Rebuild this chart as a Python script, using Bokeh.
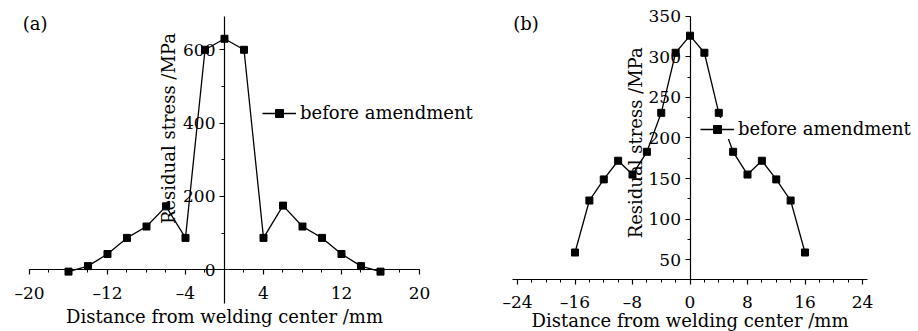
import math
from bokeh.plotting import figure
from bokeh.models import FixedTicker, Label, Legend, LegendItem, Range1d
from bokeh.layouts import row
from bokeh.embed import file_html
from bokeh.resources import INLINE

# ---------------- data ----------------
positions = [-16, -14, -12, -10, -8, -6, -4, -2, 0, 2, 4, 6, 8, 10, 12, 14, 16]
stress_a = [-5, 10, 43, 87, 118, 173, 87, 600, 630, 600, 87, 175, 118, 87, 43, 10, -5]
stress_b = [59, 123, 149, 172, 155, 183, 231, 305, 326, 305, 231, 183, 155, 172, 149, 123, 59]

xticks_a = [-20, -12, -4, 4, 12, 20]
xminor_a = [-20, -18, -16, -14, -12, -10, -8, -6, -4, -2, 0, 2, 4, 6, 8, 10, 12, 14, 16, 18, 20]
yticks_a = [0, 200, 400, 600]
yminor_a = [100, 300, 500]

xticks_b = [-24, -16, -8, 0, 8, 16, 24]
xminor_b = [-24, -22, -20, -18, -16, -14, -12, -10, -8, -6, -4, -2, 0, 2, 4, 6, 8, 10, 12, 14, 16, 18, 20, 22, 24]
yticks_b = [50, 100, 150, 200, 250, 300, 350]
yminor_b = [75, 125, 175, 225, 275, 325]

series_name = "before amendment"
x_title = "Distance from welding center /mm"
y_title = "Residual stress /MPa"
panel_tags = ["(a)", "(b)"]

FONT = "DejaVu Serif"


def tick_text(v):
    return str(v).replace("-", "\u2013")


def make_panel(width, height, xr, yr, xbounds, ybounds, x_axis_at, xt, xm, yt, ym, ys,
               legend_loc, tag, tag_xy, ylab_xy, xlabel_standoff):
    p = figure(width=width, height=height, x_range=Range1d(*xr), y_range=Range1d(*yr),
               output_backend="svg", toolbar_location=None, min_border=0)
    p.outline_line_color = None
    p.grid.visible = False
    p.background_fill_color = "white"
    p.border_fill_color = "white"

    p.xaxis.fixed_location = x_axis_at
    p.yaxis.fixed_location = 0
    p.xaxis.bounds = xbounds
    p.yaxis.bounds = ybounds
    p.xaxis.ticker = FixedTicker(ticks=xt, minor_ticks=xm)
    p.yaxis.ticker = FixedTicker(ticks=yt, minor_ticks=ym)
    p.xaxis.major_label_overrides = {v: tick_text(v) for v in xt}
    p.yaxis.major_label_overrides = {v: tick_text(v) for v in yt}
    for ax in (p.xaxis, p.yaxis):
        ax.axis_line_color = "black"
        ax.axis_line_width = 1.2
        ax.major_tick_line_color = "black"
        ax.minor_tick_line_color = "black"
        ax.major_tick_line_width = 1.2
        ax.minor_tick_line_width = 1.0
        ax.major_tick_in = 0
        ax.major_tick_out = 5
        ax.minor_tick_in = 0
        ax.minor_tick_out = 3
        ax.major_label_text_font = FONT
        ax.major_label_text_font_size = "17px"
        ax.major_label_text_color = "black"
    p.xaxis.major_label_standoff = 8
    p.yaxis.major_label_standoff = 4
    p.xaxis.axis_label = x_title
    p.xaxis.axis_label_text_font = FONT
    p.xaxis.axis_label_text_font_size = "18px"
    p.xaxis.axis_label_text_font_style = "normal"
    p.xaxis.axis_label_text_color = "black"
    p.xaxis.axis_label_standoff = xlabel_standoff

    line = p.line(positions, ys, line_color="black", line_width=1.3)
    pts = p.scatter(positions, ys, marker="square", size=7, fill_color="black", line_color="black")

    legend = Legend(items=[LegendItem(label=series_name, renderers=[line, pts])],
                    location=legend_loc, padding=2, margin=0, spacing=0,
                    border_line_color=None, background_fill_color="white",
                    background_fill_alpha=1.0, glyph_width=34, glyph_height=20,
                    label_standoff=4, label_text_font=FONT, label_text_font_size="18px",
                    label_text_color="black")
    p.add_layout(legend)

    p.add_layout(Label(x=ylab_xy[0], y=ylab_xy[1], text=y_title, angle=math.pi / 2,
                       text_align="center", text_baseline="middle", text_font=FONT,
                       text_font_size="18px", text_color="black"))
    p.add_layout(Label(x=tag_xy[0], y=tag_xy[1], text=tag, text_align="left",
                       text_baseline="middle", text_font=FONT, text_font_size="18px",
                       text_color="black"))
    return p


pa = make_panel(474, 331, (-22.974, 25.641), (-168.3, 734.4), (-20, 20), (-92, 690), 0,
                xticks_a, xminor_a, yticks_a, yminor_a, stress_a,
                (262, 208), panel_tags[0], (-20.7, 672), (-5.74, 385), 0)
pb = make_panel(444, 331, (-29.983, 31.791), (-38.3, 369.33), (-24.7, 24.7), (26, 350), 26,
                xticks_b, xminor_b, yticks_b, yminor_b, stress_b,
                (226, 192), panel_tags[1], (-24.6, 341), (-7.6, 194), -6)

layout = row(pa, pb, spacing=0)
open("out.html", "w").write(file_html(layout, INLINE))
